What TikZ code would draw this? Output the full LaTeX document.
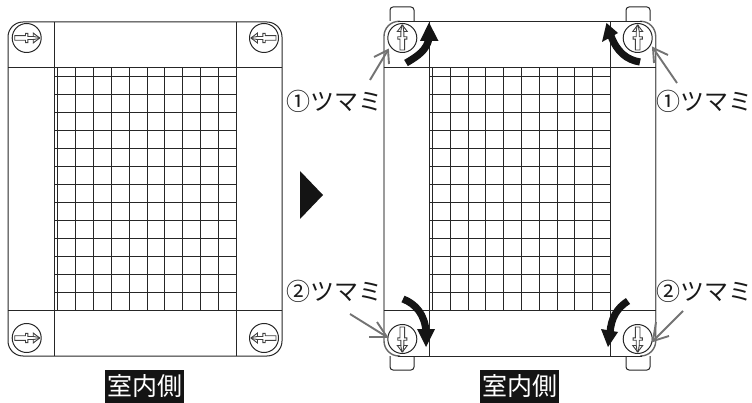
\documentclass[tikz,border=0pt]{standalone}
\usepackage{fontspec}
\newfontfamily\jpfont{Noto Sans CJK JP}
\tikzset{
  x=1pt,y=-1pt,
  ln/.style={draw=black!85,line width=1pt},
  grayln/.style={draw=black!60,line width=1.4pt},
  callout/.style={draw=black!55,line width=1.9pt},
  bigarrow/.style={draw=black!92,line width=7.2pt},
  bighead/.style={fill=black!92},
  caption/.style={fill=black!92,text=white,minimum width=79pt,minimum height=33pt,inner sep=0pt,font=\jpfont\fontsize{25}{25}\selectfont},
  tsumami/.style={anchor=west,inner sep=0pt,text=black!90,font=\jpfont\fontsize{24}{26}\selectfont},
  pics/screwhead/.style={code={
    \draw[ln] (0,0) circle[radius=14.5];
    \draw[draw=black!75,line width=0.9pt,fill=white]
      (-12,-2.3) -- (-1.2,-2.3) -- (-1.2,-4.6) -- (1.2,-4.6) -- (1.2,-1.5) -- (6.5,-1.5) -- (6.5,-5) -- (13,0)
      -- (6.5,5) -- (6.5,1.5) -- (1.2,1.5) -- (1.2,4.6) -- (-1.2,4.6) -- (-1.2,2.3) -- (-12,2.3) -- cycle;
    \draw[draw=black!75,line width=0.9pt] (6.5,-1.5) -- (13,-0.5) (6.5,1.5) -- (13,0.5);
  }}
}
\begin{document}
\begin{tikzpicture}
\useasboundingbox (0,0) rectangle (752,403);
% left panel
\draw[ln,rounded corners=15pt] (8,22) rectangle (282,356);
\draw[ln] (54,22) -- (54,356) (236.3,22) -- (236.3,356) (8,67.3) -- (282,67.3) (8,310.3) -- (282,310.3);
\foreach \k in {0,...,10} \draw[ln] ({57.5+17.9*\k},67.3) -- ({57.5+17.9*\k},310.3);
\foreach \k in {0,...,13} \draw[ln] (54,{77+17.94*\k}) -- (236.3,{77+17.94*\k});
\pic at (26.7,38) {screwhead};
\pic at (26.7,338) {screwhead};
\pic[rotate=180] at (264,38) {screwhead};
\pic[rotate=180] at (264,338) {screwhead};
% right panel
\draw[ln,rounded corners=3pt] (390,21) -- (390,7) -- (414,7) -- (414,21);
\draw[ln,rounded corners=3pt] (626,21) -- (626,7) -- (650,7) -- (650,21);
\draw[ln,rounded corners=3pt] (390,356) -- (390,370) -- (414,370) -- (414,356);
\draw[ln,rounded corners=3pt] (626,356) -- (626,370) -- (650,370) -- (650,356);
\fill[white,rounded corners=15pt] (384,21.3) rectangle (655.7,356);
\draw[grayln,rounded corners=15pt] (400,356) -- (384,356) -- (384,21.3) -- (400,21.3);
\draw[grayln,rounded corners=15pt] (640,21.3) -- (655.7,21.3) -- (655.7,356) -- (640,356);
\draw[ln] (398,21.3) -- (642,21.3) (398,356) -- (642,356);
\draw[ln] (429,21.3) -- (429,356) (610.3,21.3) -- (610.3,356) (384,67.3) -- (655.7,67.3) (384,310.3) -- (655.7,310.3);
\foreach \k in {0,...,10} \draw[ln] ({432.5+17.8*\k},67.3) -- ({432.5+17.8*\k},310.3);
\foreach \k in {0,...,13} \draw[ln] (429,{77+17.94*\k}) -- (610.3,{77+17.94*\k});
\pic[rotate=90] at (402.3,38) {screwhead};
\pic[rotate=90] at (637.7,38) {screwhead};
\pic[rotate=-90] at (402.3,339) {screwhead};
\pic[rotate=-90] at (637.7,339) {screwhead};
% big triangle
\fill[black!92] (300,171) -- (323,195) -- (300,219) -- cycle;
% black curved arrows
\draw[bigarrow] (406,63) .. controls (418,56) and (427,50) .. (429,38);
\fill[bighead] (429,22.5) -- (438.5,41) -- (420,41) -- cycle;
\draw[bigarrow] (640,62) .. controls (627,60) and (617,52) .. (611,36);
\fill[bighead] (606.5,23) -- (618,33) -- (602,42) -- cycle;
\draw[bigarrow] (403,299) .. controls (416,304) and (425,315) .. (426,332);
\fill[bighead] (426,347) -- (435,329) -- (417,329) -- cycle;
\draw[bigarrow] (628,301) .. controls (617,308) and (611,318) .. (610,333);
\fill[bighead] (608,347) -- (618,332) -- (601,329) -- cycle;
% callouts
\coordinate (tlTail) at (370,80); \coordinate (tlTip) at (388,50);
\coordinate (trTail) at (677,83); \coordinate (trTip) at (653,48);
\coordinate (blTail) at (350,314); \coordinate (blTip) at (387,337);
\coordinate (brTail) at (683,311); \coordinate (brTip) at (653,341);
\draw[callout] (tlTail) -- (tlTip);
\draw[callout] (374,57) -- (tlTip) -- (389,64);
\draw[callout] (trTail) -- (trTip);
\draw[callout] (668,55) -- (trTip) -- (654,63);
\draw[callout] (blTail) -- (blTip);
\draw[callout] (377,322) -- (blTip) -- (369,337);
\draw[callout] (brTail) -- (brTip);
\draw[callout] (656,322) -- (brTip) -- (669,336);
% labels
\node[tsumami] (t1) at (286,101) {①ツマミ};
\node[tsumami] (t2) at (656,101) {①ツマミ};
\node[tsumami] (t3) at (286,291) {②ツマミ};
\node[tsumami] (t4) at (656,291) {②ツマミ};
\node[caption] (c1) at (144.5,386.5) {室内側};
\node[caption] (c2) at (519.5,386.5) {室内側};
\end{tikzpicture}
\end{document}
